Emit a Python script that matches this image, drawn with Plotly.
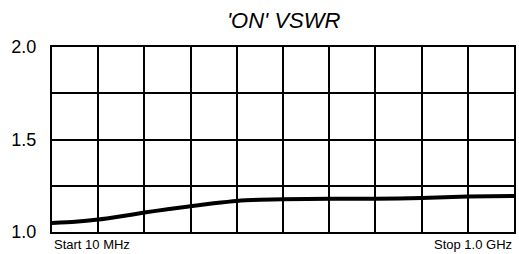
import plotly.graph_objects as go

freq_mhz = [10, 59.5, 109, 158.5, 208, 257.5, 307, 356.5, 406, 455.5, 505, 604, 703, 802, 901, 1000]
vswr = [1.049, 1.055, 1.067, 1.085, 1.105, 1.123, 1.139, 1.155, 1.168, 1.174, 1.177, 1.180, 1.180, 1.184, 1.192, 1.195]

x_grid = [10 + 99 * i for i in range(11)]
y_ticks = [1.0, 1.25, 1.5, 1.75, 2.0]
y_tick_text = ["1.0", "", "1.5", "", "2.0"]

title_text = "'ON' VSWR"
start_label = "Start 10 MHz"
stop_label = "Stop 1.0 GHz"

FONT = "Liberation Sans, Arial, Helvetica, sans-serif"

fig = go.Figure()
fig.add_trace(go.Scatter(
    x=freq_mhz, y=vswr, mode="lines",
    line=dict(color="black", width=4, shape="spline", smoothing=0.6),
    hoverinfo="skip", showlegend=False,
))

fig.update_layout(
    width=519, height=254,
    margin=dict(l=52, r=3, t=47, b=22),
    paper_bgcolor="white", plot_bgcolor="white",
    font=dict(family=FONT, color="black"),
    title=dict(text=title_text, x=0.5465, xanchor="center", y=0.92, yanchor="middle",
               font=dict(family=FONT, size=22, color="black", style="italic")),
    xaxis=dict(range=[10, 1000], tickvals=x_grid, showticklabels=False,
               showgrid=True, gridcolor="black", gridwidth=2,
               showline=True, linecolor="black", linewidth=2, mirror=True,
               zeroline=False, ticks=""),
    yaxis=dict(range=[1.0, 2.0], tickvals=y_ticks, ticktext=y_tick_text,
               showgrid=True, gridcolor="black", gridwidth=2,
               showline=True, linecolor="black", linewidth=2, mirror=True,
               zeroline=False, ticks="", ticklabelstandoff=10,
               tickfont=dict(family=FONT, size=18, color="black")),
    annotations=[
        dict(text=start_label, x=0, xref="paper", xanchor="left",
             y=0, yref="paper", yanchor="top", yshift=-3, showarrow=False,
             font=dict(family=FONT, size=13, color="black")),
        dict(text=stop_label, x=1, xref="paper", xanchor="right",
             y=0, yref="paper", yanchor="top", yshift=-3, showarrow=False,
             font=dict(family=FONT, size=13, color="black")),
    ],
)

fig.write_html("out.html", config={"displayModeBar": False},
               post_script="document.body.style.margin='0';document.body.style.overflow='hidden';")
